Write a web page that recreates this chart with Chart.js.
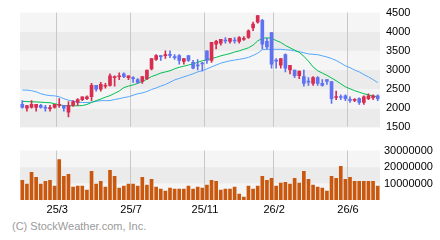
<!DOCTYPE html>
<html>
<head>
<meta charset="utf-8">
<script src="https://cdn.jsdelivr.net/npm/chart.js@4.4.1/dist/chart.umd.min.js"></script>
<style>
  body { margin: 0; background: #fff; width: 440px; height: 240px; position: relative; overflow: hidden; font-family: "Liberation Sans", Arial, sans-serif; }
  #price { position: absolute; left: 0; top: 0; }
  #vol { position: absolute; left: 0; top: 140px; }
  #copy { position: absolute; left: 12px; top: 220px; font-size: 11px; color: #9a9a9a; }
</style>
</head>
<body>
<canvas id="price" width="440" height="140"></canvas>
<canvas id="vol" width="440" height="80"></canvas>
<div id="copy">(C) StockWeather.com, Inc.</div>
<script>
// weekly candles
const openP = [2100,2000,2025,2025,2075,2025,1992,2025,2075,2075,1900,2075,2150,2225,2250,2300,2600,2500,2575,2600,
  2800,2825,2900,2800,2800,2750,2700,2775,3025,3275,3375,3375,3408,3350,3375,3225,3375,3200,3133,3183,
  3500,3250,3675,3700,3783,3750,3783,3750,3800,3850,4100,4250,4300,3750,3975,3258,3125,3400,3000,3000,
  2850,2825,2708,2650,2800,2650,2750,2700,2283,2308,2325,2233,2208,2250,2150,2250,2275,2325];
const closeP = [2025,2067,2100,2100,2025,2000,2017,2100,2100,2000,2075,2175,2225,2300,2300,2600,2500,2625,2600,2850,
  2825,2850,2825,2850,2775,2675,2825,3000,3300,3375,3350,3400,3383,3325,3250,3300,3250,3050,3108,3158,
  3250,3725,3750,3800,3758,3825,3758,3850,3825,4025,4200,4425,3675,3600,3150,3233,3300,3050,3125,2850,
  2975,2650,2683,2800,2650,2600,2700,2250,2308,2283,2250,2208,2233,2150,2300,2325,2325,2250];
const highP = [2200,2067,2200,2100,2100,2075,2075,2100,2250,2075,2175,2200,2250,2300,2325,2650,2600,2675,2650,2900,
  2850,2925,2925,2850,2825,2775,2825,3000,3300,3400,3375,3500,3500,3400,3400,3300,3375,3250,3275,3200,
  3500,3725,3775,3800,3850,3825,3850,3875,3875,4050,4250,4425,4325,3825,3975,3300,3300,3425,3125,3000,
  2975,3000,2800,2825,2825,2750,2750,2700,2450,2350,2350,2300,2250,2275,2325,2375,2350,2350];
const lowP = [2000,1925,2000,1925,2000,1925,1925,2000,2025,1925,1775,2050,2075,2200,2225,2200,2450,2450,2525,2575,
  2575,2750,2800,2750,2675,2650,2650,2750,3000,3250,3250,3300,3325,3275,3150,3150,3225,3025,3000,2975,
  3175,3200,3550,3650,3700,3700,3700,3700,3775,3825,4025,4225,3550,3550,3050,3050,3050,2950,2900,2800,
  2775,2575,2600,2600,2600,2575,2625,2125,2225,2225,2200,2150,2175,2100,2100,2225,2225,2200];
// moving averages (green = short, blue = long)
const maShort = [2180,2175,2170,2165,2160,2150,2145,2120,2090,2070,2065,2065,2065,2070,2100,2150,2200,2240,2290,2330,
  2390,2450,2540,2580,2610,2650,2700,2760,2830,2870,2920,2950,2980,3030,3070,3100,3130,3160,3200,3240,
  3270,3300,3330,3370,3400,3430,3470,3500,3540,3580,3650,3760,3830,3840,3830,3770,3720,3640,3580,3520,
  3460,3360,3230,3080,2980,2920,2860,2790,2720,2640,2560,2510,2460,2420,2380,2350,2320,2300];
const maLong = [2475,2475,2460,2430,2380,2350,2330,2325,2300,2250,2210,2190,2160,2150,2150,2160,2180,2200,2200,2200,
  2230,2250,2280,2300,2340,2380,2400,2440,2490,2530,2580,2620,2680,2740,2780,2820,2860,2900,2950,2980,
  3030,3080,3130,3180,3210,3240,3260,3280,3300,3330,3380,3440,3530,3540,3540,3540,3540,3530,3520,3500,
  3480,3450,3420,3410,3400,3370,3340,3300,3250,3180,3110,3060,3000,2950,2880,2820,2750,2670];
const volume = [12000000,9600000,16800000,13800000,9600000,11400000,12000000,8400000,24600000,14400000,
  15600000,7800000,8400000,8400000,6000000,17400000,9600000,11400000,7800000,18000000,
  14400000,7200000,8400000,9600000,9600000,8400000,13800000,9000000,12600000,7800000,
  6600000,5400000,7200000,6600000,6600000,6600000,8400000,6600000,7800000,7200000,
  9000000,12000000,11400000,6000000,6600000,6600000,7800000,3600000,1800000,8400000,
  6600000,8400000,14400000,12000000,13200000,8400000,10200000,10800000,9600000,13200000,
  10200000,17400000,12600000,9000000,7800000,7200000,5400000,14400000,13200000,20400000,
  12600000,13800000,11400000,11400000,11400000,11400000,11400000,8400000];
const tickIdx = [8, 24, 40, 55, 71];
const tickText = ["25/3", "25/7", "25/11", "26/2", "26/6"];

const weeks = openP.map((_, i) => i);
const RED = "#d62d50", BLUE = "#5f73f2";
const LIGHT = "#f5f5f5", DARK = "#ebebeb";
const FONT = { family: "'Liberation Sans', Arial, sans-serif", size: 11 };

const candleColor = openP.map((o, i) => closeP[i] >= o ? RED : BLUE);

const bandsPlugin = {
  id: "bands",
  beforeDraw(chart, args, opts) {
    const { ctx, chartArea: a, scales: { y } } = chart;
    ctx.save();
    opts.list.forEach(b => {
      const top = y.getPixelForValue(b[1]);
      const bot = y.getPixelForValue(b[0]);
      ctx.fillStyle = b[2];
      ctx.fillRect(a.left, top, a.right - a.left, bot - top);
    });
    ctx.restore();
  }
};

function gridColor(ctx) {
  return tickIdx.includes(ctx.index) ? "#c8c8c8" : "rgba(0,0,0,0)";
}

new Chart(document.getElementById("price"), {
  type: "bar",
  data: {
    labels: weeks,
    datasets: [
      { type: "line", data: maShort, borderColor: "#00c050", borderWidth: 1, pointRadius: 0, order: 3 },
      { type: "line", data: maLong, borderColor: "#55a8ff", borderWidth: 1, pointRadius: 0, order: 3 },
      { data: weeks.map(i => [lowP[i], highP[i]]), backgroundColor: candleColor, barThickness: 1, grouped: false, order: 2 },
      { data: weeks.map(i => [openP[i], closeP[i]]), backgroundColor: candleColor, barThickness: 3, grouped: false, order: 1 }
    ]
  },
  options: {
    responsive: false,
    animation: false,
    layout: { padding: { left: 20, top: 10, right: 0, bottom: 0 } },
    plugins: {
      legend: { display: false },
      tooltip: { enabled: false },
      bands: { list: [[1500, 2000, DARK], [2000, 2500, LIGHT], [2500, 3000, DARK], [3000, 3500, LIGHT], [3500, 4000, DARK], [4000, 4500, LIGHT]] }
    },
    scales: {
      x: {
        offset: true,
        grid: { offset: true, color: gridColor, drawTicks: false },
        border: { display: false },
        ticks: { display: false },
        afterFit: s => { s.height = 10; }
      },
      y: {
        position: "right",
        min: 1500, max: 4500,
        ticks: { stepSize: 500, font: FONT, color: "#000", padding: 6, callback: v => String(v) },
        grid: { display: false, drawTicks: false },
        border: { display: false },
        afterFit: s => { s.width = 60; }
      }
    }
  },
  plugins: [bandsPlugin]
});

new Chart(document.getElementById("vol"), {
  type: "bar",
  data: {
    labels: weeks,
    datasets: [
      { data: volume, backgroundColor: "#c9580e", barThickness: 3 }
    ]
  },
  options: {
    responsive: false,
    animation: false,
    layout: { padding: { left: 20, top: 10, right: 0, bottom: 0 } },
    plugins: {
      legend: { display: false },
      tooltip: { enabled: false },
      bands: { list: [[0, 10000000, LIGHT], [10000000, 20000000, DARK], [20000000, 30000000, LIGHT]] }
    },
    scales: {
      x: {
        offset: true,
        grid: { offset: true, color: gridColor, drawTicks: false },
        border: { display: false },
        ticks: {
          autoSkip: false, maxRotation: 0, font: FONT, color: "#000", padding: 3, labelOffset: -2,
          callback: (v, i) => { const k = tickIdx.indexOf(i); return k >= 0 ? tickText[k] : ""; }
        },
        afterFit: s => { s.height = 20; }
      },
      y: {
        position: "right",
        min: 0, max: 30000000,
        ticks: { stepSize: 10000000, font: FONT, color: "#000", padding: 4, callback: v => v === 0 ? "" : String(v) },
        grid: { display: false, drawTicks: false },
        border: { display: false },
        afterFit: s => { s.width = 60; }
      }
    }
  },
  plugins: [bandsPlugin]
});
</script>
</body>
</html>
